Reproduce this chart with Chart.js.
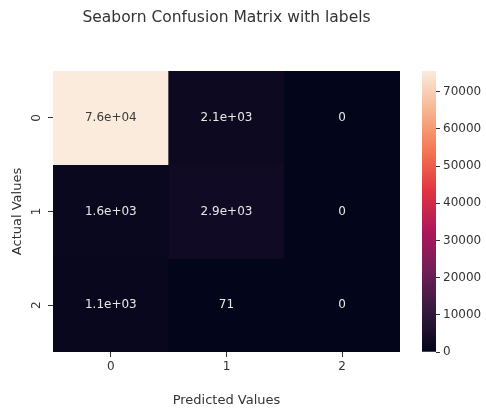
<!DOCTYPE html>
<html>
<head>
<meta charset="utf-8">
<script src="https://cdn.jsdelivr.net/npm/chart.js@4/dist/chart.umd.min.js"></script>
<style>
  body { margin: 0; background: #fff; }
  #wrap { position: relative; width: 486px; height: 409px; }
  #heat { position: absolute; left: 0; top: 0; }
  #cbar { position: absolute; left: 400px; top: 0; }
</style>
</head>
<body>
<div id="wrap">
  <canvas id="heat" width="453" height="409"></canvas>
  <canvas id="cbar" width="86" height="409"></canvas>
</div>
<script>
// labels
const colLabels = ['0', '1', '2'];   // predicted
const rowLabels = ['0', '1', '2'];   // actual
// confusion matrix, one array per actual row
const row0 = [75600, 2100, 0];
const row1 = [1600, 2900, 0];
const row2 = [1100, 71, 0];
const matrix = [row0, row1, row2];
const cbarTicks = [0, 10000, 20000, 30000, 40000, 50000, 60000, 70000];

const vmax = Math.max(...matrix.flat());
const vmin = 0;

// seaborn "rocket" colormap, sampled
const rocketStops = ['#03051a', '#35193e', '#701f57', '#ad1759', '#e13342', '#f37651', '#f6b48f', '#faebdd'];

function hexToRgb(h) {
  return [parseInt(h.substr(1, 2), 16), parseInt(h.substr(3, 2), 16), parseInt(h.substr(5, 2), 16)];
}
function rocket(t) {
  t = Math.max(0, Math.min(1, t));
  const n = rocketStops.length - 1;
  const i = Math.min(n - 1, Math.floor(t * n));
  const f = t * n - i;
  const a = hexToRgb(rocketStops[i]), b = hexToRgb(rocketStops[i + 1]);
  const c = a.map((v, k) => Math.round(v + (b[k] - v) * f));
  return 'rgb(' + c.join(',') + ')';
}
function isLight(t) {
  return t > 0.5;
}
// python '.2g'
function fmt2g(v) {
  if (v === 0) return '0';
  const e = Math.floor(Math.log10(Math.abs(v)));
  if (e < -4 || e >= 2) {
    const m = (v / Math.pow(10, e)).toFixed(1).replace(/\.0$/, '');
    return m + 'e' + (e < 0 ? '-' : '+') + String(Math.abs(e)).padStart(2, '0');
  }
  return String(Number(v.toPrecision(2)));
}

const FONT = 'DejaVu Sans';
const TXT = '#333';

// one floating-bar dataset per actual row, spanning [r, r+1] on the y scale
const datasets = matrix.map((row, r) => ({
  label: rowLabels[r],
  data: row.map(() => [r, r + 1]),
  values: row,
  backgroundColor: row.map(v => rocket((v - vmin) / (vmax - vmin))),
  borderWidth: 0,
  grouped: false,
  barPercentage: 1,
  categoryPercentage: 1
}));

const annotate = {
  id: 'annotate',
  afterDatasetsDraw(chart) {
    const ctx = chart.ctx;
    ctx.save();
    ctx.font = '12px "' + FONT + '"';
    ctx.textAlign = 'center';
    ctx.textBaseline = 'middle';
    chart.data.datasets.forEach((ds, i) => {
      chart.getDatasetMeta(i).data.forEach((el, j) => {
        const v = ds.values[j];
        ctx.fillStyle = isLight((v - vmin) / (vmax - vmin)) ? '#3a3a3a' : '#e8e8e8';
        ctx.fillText(fmt2g(v), el.x, (el.y + el.base) / 2);
      });
    });
    // rotated y tick labels
    const ys = chart.scales.y;
    ctx.fillStyle = TXT;
    ys.ticks.forEach(t => {
      ctx.save();
      ctx.translate(37, ys.getPixelForValue(t.value));
      ctx.rotate(-Math.PI / 2);
      ctx.fillText(rowLabels[Math.floor(t.value)], 0, 0);
      ctx.restore();
    });
    ctx.restore();
  }
};

new Chart(document.getElementById('heat'), {
  type: 'bar',
  data: { labels: colLabels, datasets: datasets },
  options: {
    responsive: false,
    animation: false,
    devicePixelRatio: 1,
    layout: { padding: 0 },
    plugins: {
      legend: { display: false },
      tooltip: { enabled: false },
      title: {
        display: true,
        text: 'Seaborn Confusion Matrix with labels',
        color: TXT,
        font: { family: FONT, size: 15.5, weight: 'normal' },
        padding: { top: 9, bottom: 43.4 }
      }
    },
    scales: {
      x: {
        type: 'category',
        offset: true,
        grid: { display: true, offset: false, drawOnChartArea: false, drawTicks: true, tickLength: 5, color: TXT },
        border: { display: false },
        ticks: { color: TXT, padding: 3, font: { family: FONT, size: 12 }, maxRotation: 0 },
        title: { display: true, text: 'Predicted Values', color: TXT, font: { family: FONT, size: 13 }, padding: { top: 0, bottom: 1 } },
        afterFit(scale) { scale.height = 57; }
      },
      y: {
        type: 'linear',
        min: 0,
        max: rowLabels.length,
        reverse: true,
        afterBuildTicks(scale) { scale.ticks = rowLabels.map((_, i) => ({ value: i + 0.5 })); },
        grid: { display: true, drawOnChartArea: false, drawTicks: true, tickLength: 5, color: TXT },
        border: { display: false },
        ticks: { color: 'rgba(0,0,0,0)', font: { family: FONT, size: 12 }, callback: v => rowLabels[Math.floor(v)] },
        title: { display: true, text: 'Actual Values', color: TXT, font: { family: FONT, size: 13 }, padding: { top: 10, bottom: 0 } },
        afterFit(scale) { scale.width = 53; }
      },
      // empty right-hand box so the title centres over the heatmap
      yPad: {
        type: 'linear',
        position: 'right',
        grid: { display: false },
        border: { display: false },
        ticks: { display: false },
        afterFit(scale) { scale.width = 53; }
      }
    }
  },
  plugins: [annotate]
});

// colorbar
new Chart(document.getElementById('cbar'), {
  type: 'bar',
  data: {
    labels: ['cbar'],
    datasets: [{
      data: [[vmin, vmax]],
      borderWidth: 0,
      barPercentage: 1,
      categoryPercentage: 1,
      backgroundColor(c) {
        const chart = c.chart;
        const ys = chart.scales.y;
        if (!ys || !chart.chartArea) return rocketStops[0];
        const y0 = ys.getPixelForValue(vmin), y1 = ys.getPixelForValue(vmax);
        if (!isFinite(y0) || !isFinite(y1) || y0 === y1) return rocketStops[0];
        const g = chart.ctx.createLinearGradient(0, y0, 0, y1);
        rocketStops.forEach((s, i) => g.addColorStop(i / (rocketStops.length - 1), s));
        return g;
      }
    }]
  },
  options: {
    responsive: false,
    animation: false,
    devicePixelRatio: 1,
    layout: { padding: { left: 22, right: 0, top: 71, bottom: 57 } },
    plugins: { legend: { display: false }, tooltip: { enabled: false } },
    scales: {
      x: { display: false },
      y: {
        position: 'right',
        min: vmin,
        max: vmax,
        afterBuildTicks(scale) { scale.ticks = cbarTicks.map(v => ({ value: v })); },
        grid: { display: true, drawOnChartArea: false, drawTicks: true, tickLength: 4, color: TXT },
        border: { display: false },
        ticks: { color: TXT, padding: 3, font: { family: FONT, size: 12 }, callback: v => String(v) },
        afterFit(scale) { scale.width = 50; }
      }
    }
  }
});
</script>
</body>
</html>
